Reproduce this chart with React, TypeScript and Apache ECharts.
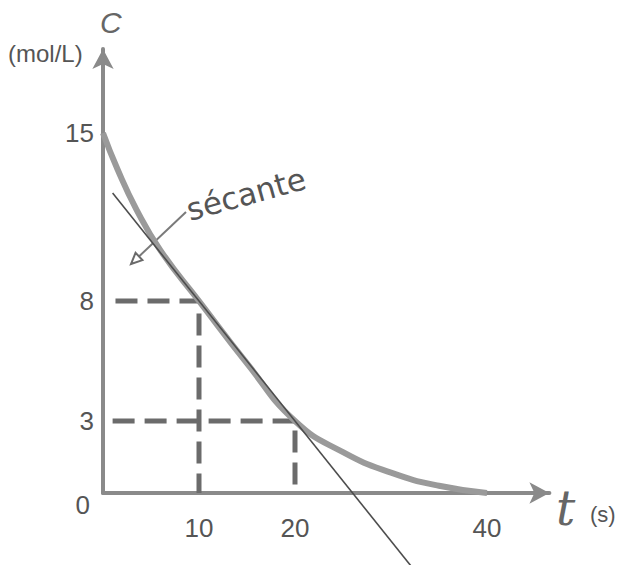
import React, { useEffect, useRef } from "react";
import * as echarts from "echarts";

// Concentration C (mol/L) against time t (s)
const TIME = [0, 1.5, 3.5, 6, 10, 15, 20, 25, 30, 35, 40];
const CONC = [15, 13.5, 11.8, 10.1, 8, 5.4, 3, 1.7, 0.85, 0.3, 0];

// Secant through (10, 8) and (20, 3)
const SECANT_T = [1, 34];
const SECANT_C = [12.5, -4];

// Reading guides for the two marked points
const MARK_T = [10, 20];
const MARK_C = [8, 3];
const GUIDE_START = [1.3, 1.0];

const X_TICKS = [10, 20, 40];
const Y_TICKS = [0, 3, 8, 15];

const FONT = "'Liberation Sans', Arial, sans-serif";
const AXIS_COLOR = "#8a8a8a";
const TEXT_COLOR = "#555555";

export default function App() {
  const ref = useRef<HTMLDivElement>(null);

  useEffect(() => {
    if (!ref.current) return;
    const chart = echarts.init(ref.current, undefined, { renderer: "svg" });

    const curve = TIME.map((t, i) => [t, CONC[i]]);
    const secant = SECANT_T.map((t, i) => [t, SECANT_C[i]]);
    const guides = MARK_T.map((t, i) => ({
      type: "line",
      data: [
        [GUIDE_START[i], MARK_C[i]],
        [t, MARK_C[i]],
        [t, 0],
      ],
      symbol: "none",
      silent: true,
      z: 2,
      lineStyle: { color: "#6b6b6b", width: 5, type: [22, 10] },
    }));

    // open arrow head on the annotation pointer
    const tip = [131, 264];
    const tail = [186, 212];
    const dx = tail[0] - tip[0];
    const dy = tail[1] - tip[1];
    const len = Math.hypot(dx, dy);
    const ux = dx / len;
    const uy = dy / len;
    const bx = tip[0] + ux * 11;
    const by = tip[1] + uy * 11;
    const px = -uy * 5;
    const py = ux * 5;

    chart.setOption({
      animation: false,
      backgroundColor: "#ffffff",
      grid: { left: 103, right: 72.6, top: 49, bottom: 72 },
      xAxis: {
        type: "value",
        min: 0,
        max: 46.5,
        interval: 10,
        splitLine: { show: false },
        axisTick: { show: false },
        axisLine: {
          lineStyle: { color: AXIS_COLOR, width: 4 },
          symbol: ["none", "arrow"],
          symbolSize: [16, 20],
        },
        axisLabel: {
          margin: 22,
          color: TEXT_COLOR,
          fontSize: 26,
          fontFamily: FONT,
          showMaxLabel: false,
          formatter: (v: number) => (X_TICKS.includes(v) ? String(v) : ""),
        },
      },
      yAxis: {
        type: "value",
        min: 0,
        max: 18.5,
        interval: 1,
        splitLine: { show: false },
        axisTick: { show: false },
        axisLine: {
          lineStyle: { color: AXIS_COLOR, width: 4 },
          symbol: ["none", "arrow"],
          symbolSize: [16, 20],
        },
        axisLabel: {
          margin: 9,
          color: TEXT_COLOR,
          fontSize: 26,
          fontFamily: FONT,
          showMaxLabel: false,
          formatter: (v: number) =>
            v === 0 ? "{zero|0}" : Y_TICKS.includes(v) ? String(v) : "",
          rich: {
            zero: {
              color: TEXT_COLOR,
              fontSize: 26,
              fontFamily: FONT,
              padding: [24, 4, 0, 0],
            },
          },
        },
      },
      series: [
        ...guides,
        {
          type: "line",
          data: curve,
          smooth: 0.5,
          symbol: "none",
          silent: true,
          z: 3,
          lineStyle: { color: "#9a9a9a", width: 6 },
        },
        {
          type: "line",
          data: secant,
          symbol: "none",
          silent: true,
          clip: false,
          z: 4,
          lineStyle: { color: "#4d4d4d", width: 1.6 },
        },
      ],
      graphic: [
        {
          type: "text",
          left: 8,
          top: 41,
          style: { text: "(mol/L)", fill: TEXT_COLOR, font: `24px ${FONT}` },
        },
        {
          type: "text",
          left: 100,
          top: 7,
          style: { text: "C", fill: "#666666", font: `italic 30px ${FONT}` },
        },
        {
          type: "text",
          left: 556,
          top: 484,
          style: { text: "t", fill: "#666666", font: `italic 48px 'DejaVu Serif', serif` },
        },
        {
          type: "text",
          left: 590,
          top: 503,
          style: { text: "(s)", fill: TEXT_COLOR, font: `22px ${FONT}` },
        },
        {
          type: "text",
          x: 246,
          y: 194,
          rotation: 0.27,
          style: {
            text: "sécante",
            fill: "#555555",
            font: `31px 'DejaVu Sans', sans-serif`,
            align: "center",
            verticalAlign: "middle",
          },
        },
        {
          type: "line",
          shape: { x1: tail[0], y1: tail[1], x2: bx, y2: by },
          style: { stroke: "#7a7a7a", lineWidth: 2 },
        },
        {
          type: "polygon",
          shape: {
            points: [
              [tip[0], tip[1]],
              [bx + px, by + py],
              [bx - px, by - py],
            ],
          },
          style: { stroke: "#6a6a6a", fill: "#ffffff", lineWidth: 2 },
          z: 10,
        },
      ],
    });

    return () => chart.dispose();
  }, []);

  return (
    <div
      ref={ref}
      style={{ position: "fixed", left: 0, top: 0, width: 622, height: 565 }}
    />
  );
}
